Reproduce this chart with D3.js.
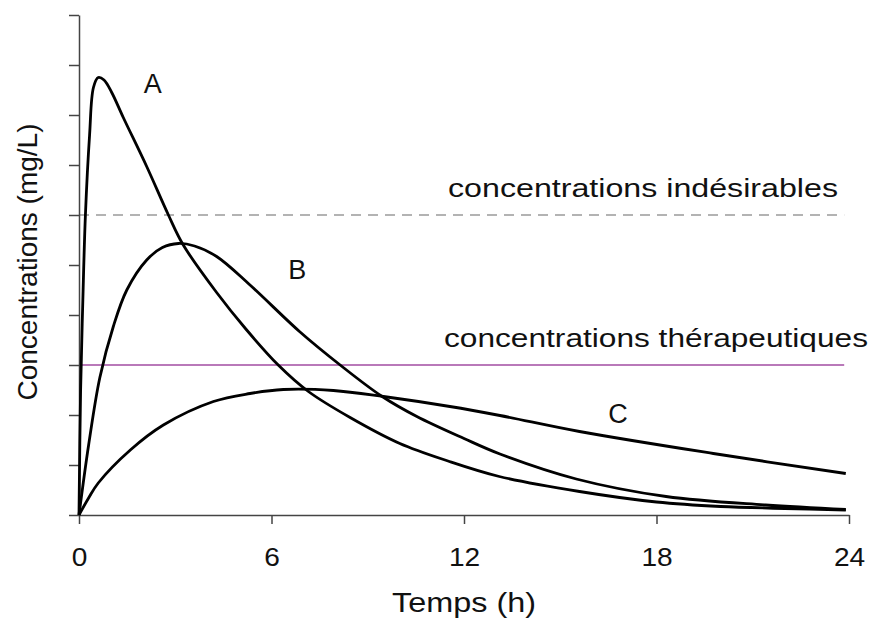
<!DOCTYPE html>
<html>
<head>
<meta charset="utf-8">
<script src="https://cdn.jsdelivr.net/npm/d3@7"></script>
<style>
  body { margin: 0; background: #fff; }
  text { font-family: "Liberation Sans", Arial, sans-serif; fill: #111; }
</style>
</head>
<body>
<div id="chart"></div>
<script>
// Time (h) and concentration values
const timeA = [0, 0.05, 0.12, 0.2, 0.33, 0.45, 0.6, 0.78, 1.02, 1.38, 2.11, 2.78, 3.25, 4.29, 5.2, 6.21, 7.15, 8.45, 10.0, 11.5, 13.1, 15.6, 18.0, 20.0, 22.0, 23.9];
const concA = [0, 2.5, 4.3, 6.0, 7.6, 8.55, 8.75, 8.7, 8.45, 7.95, 6.97, 6.01, 5.4, 4.45, 3.72, 3.0, 2.47, 1.95, 1.43, 1.08, 0.77, 0.47, 0.26, 0.17, 0.13, 0.1];

const timeB = [0, 0.3, 0.65, 1.07, 1.49, 2.11, 2.6, 3.1, 3.6, 4.29, 5.33, 6.89, 8.14, 9.45, 10.53, 12.0, 13.12, 15.5, 18.3, 21.4, 23.9];
const concB = [0, 1.4, 2.75, 3.77, 4.5, 5.1, 5.35, 5.43, 5.38, 5.17, 4.6, 3.66, 3.0, 2.37, 1.97, 1.53, 1.22, 0.72, 0.37, 0.2, 0.11];

const timeC = [0, 0.3, 0.6, 1.6, 2.63, 4.19, 5.33, 6.37, 7.93, 9.49, 11.56, 13.12, 15.6, 19.77, 23.9];
const concC = [0, 0.34, 0.64, 1.3, 1.8, 2.27, 2.43, 2.51, 2.49, 2.37, 2.17, 1.99, 1.67, 1.23, 0.83];

const curveNames = ["A", "B", "C"];
const curveLabelPos = [[2.3, 8.45], [6.8, 4.72], [16.8, 1.84]]; // [t, conc] of each letter

const xTicks = [0, 6, 12, 18, 24];
const yTicks = d3.range(0, 11);

const limitLevels = [6, 3];
const limitNames = ["concentrations indésirables", "concentrations thérapeutiques"];

const xLabel = "Temps (h)";
const yLabel = "Concentrations (mg/L)";

const width = 873, height = 621;
const margin = {top: 15, right: 24, bottom: 106, left: 79};

const svg = d3.select("#chart").append("svg")
    .attr("width", width)
    .attr("height", height);

const x = d3.scaleLinear().domain([0, 24]).range([margin.left, width - margin.right]);
const y = d3.scaleLinear().domain([0, 10]).range([height - margin.bottom, margin.top]);

// reference levels
const limitColors = ["#9a9a9a", "#a24ca2"];
svg.selectAll("line.limit")
  .data(limitLevels)
  .join("line")
    .attr("class", "limit")
    .attr("x1", x(0))
    .attr("x2", x(23.85))
    .attr("y1", d => y(d))
    .attr("y2", d => y(d))
    .attr("stroke", (d, i) => limitColors[i])
    .attr("stroke-width", 1.6)
    .attr("stroke-dasharray", (d, i) => i === 0 ? "10,7" : null);

svg.selectAll("text.limit")
  .data(limitNames)
  .join("text")
    .attr("class", "limit")
    .attr("x", (d, i) => i === 0 ? 448 : 444)
    .attr("y", (d, i) => y(limitLevels[i]) - 18)
    .attr("font-size", 25)
    .attr("textLength", (d, i) => i === 0 ? 390 : 424)
    .attr("lengthAdjust", "spacingAndGlyphs")
    .text(d => d);

// axes
const gx = svg.append("g")
    .attr("transform", `translate(0,${y(0)})`)
    .call(d3.axisBottom(x).tickValues(xTicks).tickSize(9).tickSizeOuter(0));
const gy = svg.append("g")
    .attr("transform", `translate(${x(0)},0)`)
    .call(d3.axisLeft(y).tickValues(yTicks).tickSize(10).tickSizeOuter(0).tickFormat(""));

[gx, gy].forEach(g => {
  g.select(".domain").attr("stroke", "#444").attr("stroke-width", 1.5);
  g.selectAll(".tick line").attr("stroke", "#444").attr("stroke-width", 1.5);
});
gx.selectAll(".tick text")
    .attr("font-size", 26)
    .attr("font-family", "Liberation Sans, Arial, sans-serif")
    .attr("fill", "#111")
    .attr("dy", null)
    .attr("y", 51)
    .attr("transform", "scale(1.08,1)");

// curves
const series = [
  timeA.map((t, i) => [t, concA[i]]),
  timeB.map((t, i) => [t, concB[i]]),
  timeC.map((t, i) => [t, concC[i]])
];
const line = d3.line()
    .x(d => x(d[0]))
    .y(d => y(d[1]))
    .curve(d3.curveCatmullRom.alpha(0.5));

svg.selectAll("path.curve")
  .data(series)
  .join("path")
    .attr("class", "curve")
    .attr("d", line)
    .attr("fill", "none")
    .attr("stroke", "#000")
    .attr("stroke-width", 2.8)
    .attr("stroke-linejoin", "round");

svg.selectAll("text.name")
  .data(curveNames)
  .join("text")
    .attr("class", "name")
    .attr("x", (d, i) => x(curveLabelPos[i][0]))
    .attr("y", (d, i) => y(curveLabelPos[i][1]))
    .attr("text-anchor", "middle")
    .attr("font-size", 27)
    .text(d => d);

// axis titles
svg.append("text")
    .attr("x", x(12))
    .attr("y", 612)
    .attr("text-anchor", "middle")
    .attr("font-size", 27)
    .attr("textLength", 144)
    .attr("lengthAdjust", "spacingAndGlyphs")
    .text(xLabel);

svg.append("text")
    .attr("transform", "translate(37,262) rotate(-90)")
    .attr("text-anchor", "middle")
    .attr("font-size", 28)
    .text(yLabel);
</script>
</body>
</html>
